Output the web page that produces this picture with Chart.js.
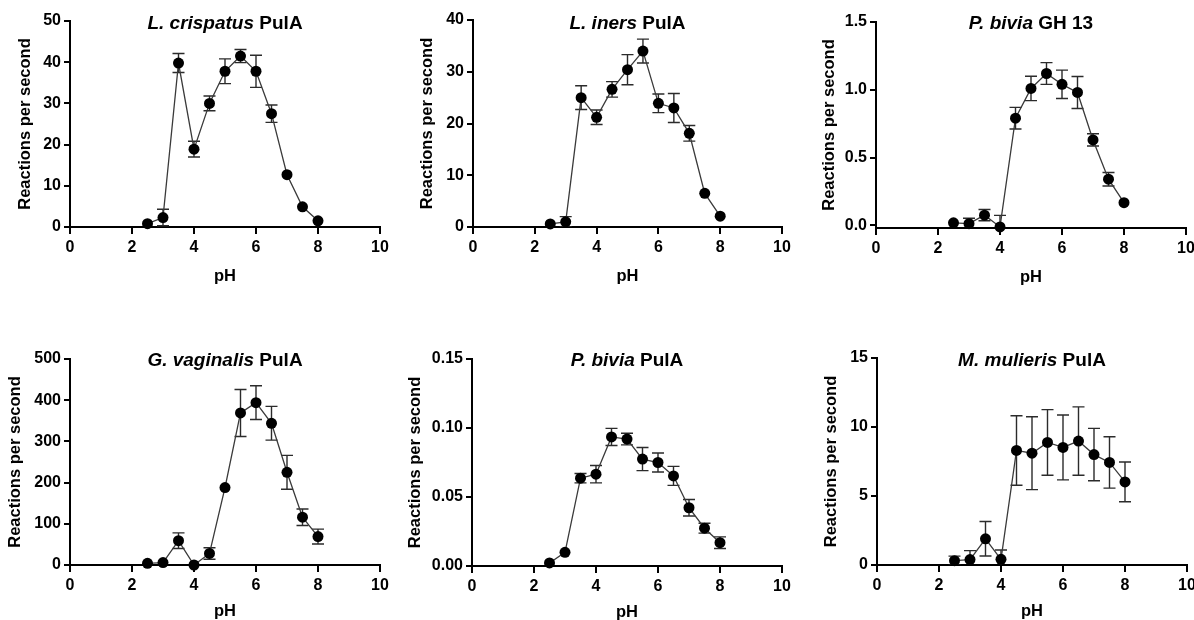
<!DOCTYPE html>
<html>
<head>
<meta charset="utf-8">
<script src="https://cdn.jsdelivr.net/npm/chart.js@4/dist/chart.umd.min.js"></script>
<style>
html, body { margin: 0; padding: 0; background: #fff; overflow: hidden; }
#wrap { position: relative; width: 1194px; height: 620px; overflow: hidden; }
#wrap canvas { position: absolute; }
</style>
</head>
<body>
<div id="wrap"></div>
<script>
const phValues = [2.5, 3, 3.5, 4, 4.5, 5, 5.5, 6, 6.5, 7, 7.5, 8];
const xTicks = [0, 2, 4, 6, 8, 10];

const titleItalic = ['L. crispatus', 'L. iners', 'P. bivia', 'G. vaginalis', 'P. bivia', 'M. mulieris'];
const titleRest = ['PulA', 'PulA', 'GH 13', 'PulA', 'PulA', 'PulA'];

const crispatusRate = [0.8, 2.3, 39.8, 18.9, 30.0, 37.8, 41.5, 37.8, 27.5, 12.7, 4.9, 1.5];
const crispatusErr = [0.2, 2.0, 2.3, 1.9, 1.8, 3.0, 1.6, 3.9, 2.1, 0.4, 0.4, 0.3];

const inersRate = [0.6, 1.0, 25.0, 21.2, 26.6, 30.4, 34.0, 23.9, 23.0, 18.1, 6.5, 2.1];
const inersErr = [0.2, 1.0, 2.3, 1.4, 1.5, 2.9, 2.3, 1.8, 2.8, 1.5, 0.3, 0.2];

const biviaGH13Rate = [0.018, 0.012, 0.075, -0.012, 0.79, 1.01, 1.12, 1.04, 0.98, 0.63, 0.34, 0.167];
const biviaGH13Err = [0.01, 0.04, 0.042, 0.085, 0.08, 0.09, 0.08, 0.105, 0.118, 0.045, 0.05, 0.01];

const vaginalisRate = [4, 6, 59, 0, 28, 188, 369, 394, 344, 225, 116, 69];
const vaginalisErr = [2, 2, 19, 3, 14, 3, 57, 41, 41, 41, 20, 18];

const biviaPulARate = [0.0022, 0.0099, 0.0636, 0.0665, 0.0935, 0.0920, 0.0775, 0.0750, 0.0653, 0.0422, 0.0274, 0.0169];
const biviaPulAErr = [0.0003, 0.0004, 0.0034, 0.0063, 0.0062, 0.0042, 0.0084, 0.0069, 0.0069, 0.0060, 0.0036, 0.0042];

const mulierisRate = [0.31, 0.39, 1.9, 0.41, 8.3, 8.1, 8.88, 8.52, 8.98, 8.0, 7.43, 6.02];
const mulierisErr = [0.33, 0.65, 1.25, 0.68, 2.52, 2.64, 2.38, 2.35, 2.48, 1.9, 1.86, 1.44];

const rates = [crispatusRate, inersRate, biviaGH13Rate, vaginalisRate, biviaPulARate, mulierisRate];
const errors = [crispatusErr, inersErr, biviaGH13Err, vaginalisErr, biviaPulAErr, mulierisErr];

const yMin = [0, 0, -0.02, 0, 0, 0];
const yMax = [50, 40, 1.5, 500, 0.15, 15];
const yStep = [10, 10, 0.5, 100, 0.05, 5];
const yDecimals = [0, 0, 1, 0, 2, 0];

// where each panel sits on the page
const panels = [
	{ left: 0,   top: 0,   width: 400, axisLeft: 70, plotRight: 380, plotTop: 21, plotBottom: 227, yTitlePad: 16, xTitlePad: 1, titleY: 29 },
	{ left: 400, top: 0,   width: 400, axisLeft: 73, plotRight: 382, plotTop: 20, plotBottom: 227, yTitlePad: 18, xTitlePad: 1, titleY: 29 },
	{ left: 794, top: 0,   width: 412, axisLeft: 82, plotRight: 392, plotTop: 22, plotBottom: 228, yTitlePad: 26, xTitlePad: 1, titleY: 29 },
	{ left: 0,   top: 320, width: 400, axisLeft: 70, plotRight: 380, plotTop: 39, plotBottom: 245, yTitlePad: 6,  xTitlePad: 4, titleY: 46 },
	{ left: 400, top: 320, width: 400, axisLeft: 72, plotRight: 382, plotTop: 39, plotBottom: 246, yTitlePad: 6,  xTitlePad: 4, titleY: 46 },
	{ left: 794, top: 320, width: 412, axisLeft: 83, plotRight: 393, plotTop: 38, plotBottom: 245, yTitlePad: 28, xTitlePad: 4, titleY: 46 },
];

const FONT = "'Liberation Sans', Arial, sans-serif";
const canvasHeight = 310;
const xAxisHeight = 60;

const errorBars = {
	id: 'errorBars',
	beforeDatasetsDraw(chart, args, opts) {
		let { ctx, chartArea, scales } = chart;
		let values = chart.data.datasets[0].data;
		ctx.save();
		ctx.beginPath();
		ctx.rect(chartArea.left, chartArea.top - 10, chartArea.width, chartArea.height + 10);
		ctx.clip();
		ctx.strokeStyle = '#2b2b2b';
		ctx.lineWidth = 1.4;
		values.forEach((pt, i) => {
			let px = scales.x.getPixelForValue(pt.x);
			let top = scales.y.getPixelForValue(pt.y + opts.errors[i]);
			let bot = scales.y.getPixelForValue(pt.y - opts.errors[i]);
			if ((bot - top) / 2 < 3) return;  // hidden behind the marker
			ctx.beginPath();
			ctx.moveTo(px, top); ctx.lineTo(px, bot);
			ctx.moveTo(px - 6, top); ctx.lineTo(px + 6, top);
			ctx.moveTo(px - 6, bot); ctx.lineTo(px + 6, bot);
			ctx.stroke();
		});
		ctx.restore();
	},
};

const panelTitle = {
	id: 'panelTitle',
	afterDraw(chart, args, opts) {
		let { ctx, chartArea } = chart;
		ctx.save();
		let italicFont = `italic bold 19px ${FONT}`;
		let plainFont = `bold 19px ${FONT}`;
		ctx.font = italicFont;
		let w1 = ctx.measureText(opts.italic + ' ').width;
		ctx.font = plainFont;
		let w2 = ctx.measureText(opts.rest).width;
		let x0 = (chartArea.left + chartArea.right) / 2 - (w1 + w2) / 2;
		ctx.fillStyle = '#000';
		ctx.textBaseline = 'alphabetic';
		ctx.textAlign = 'left';
		ctx.font = italicFont;
		ctx.fillText(opts.italic + ' ', x0, opts.y);
		ctx.font = plainFont;
		ctx.fillText(opts.rest, x0 + w1, opts.y);
		ctx.restore();
	},
};

let wrap = document.getElementById('wrap');

panels.forEach((p, k) => {
	let canvas = document.createElement('canvas');
	canvas.width = p.width;
	canvas.height = canvasHeight;
	canvas.style.left = p.left + 'px';
	canvas.style.top = p.top + 'px';
	canvas.style.width = p.width + 'px';
	canvas.style.height = canvasHeight + 'px';
	wrap.appendChild(canvas);

	let points = phValues.map((ph, i) => ({ x: ph, y: rates[k][i] }));

	new Chart(canvas.getContext('2d'), {
		type: 'line',
		data: {
			datasets: [{
				data: points,
				borderColor: '#3a3a3a',
				borderWidth: 1.3,
				pointRadius: 5.5,
				pointHoverRadius: 5.5,
				pointBackgroundColor: '#000',
				pointBorderWidth: 0,
				tension: 0,
				clip: 8,
			}],
		},
		options: {
			responsive: false,
			animation: false,
			events: [],
			layout: {
				padding: {
					left: 0,
					top: p.plotTop,
					right: p.width - p.plotRight,
					bottom: canvasHeight - xAxisHeight - p.plotBottom,
				},
			},
			plugins: {
				legend: { display: false },
				tooltip: { enabled: false },
				errorBars: { errors: errors[k] },
				panelTitle: { italic: titleItalic[k], rest: titleRest[k], y: p.titleY },
			},
			scales: {
				x: {
					type: 'linear',
					min: 0,
					max: 10,
					afterFit: s => { s.height = xAxisHeight; },
					afterBuildTicks: s => { s.ticks = xTicks.map(v => ({ value: v })); },
					grid: { display: true, drawOnChartArea: false, drawTicks: true, tickLength: 7, color: '#000', lineWidth: 2 },
					border: { display: true, color: '#000', width: 2 },
					ticks: { color: '#000', padding: 4, maxRotation: 0, font: { family: FONT, size: 16, weight: 'bold' } },
					title: { display: true, text: 'pH', color: '#000', padding: { top: 0, bottom: p.xTitlePad }, font: { family: FONT, size: 16.5, weight: 'bold' } },
				},
				y: {
					type: 'linear',
					min: yMin[k],
					max: yMax[k],
					afterFit: s => { s.width = p.axisLeft; },
					ticks: {
						stepSize: yStep[k],
						includeBounds: false,
						color: '#000',
						padding: 3,
						font: { family: FONT, size: 16, weight: 'bold' },
						callback: v => v.toFixed(yDecimals[k]),
					},
					grid: { display: true, drawOnChartArea: false, drawTicks: true, tickLength: 6, color: '#000', lineWidth: 2 },
					border: { display: true, color: '#000', width: 2 },
					title: { display: true, text: 'Reactions per second', color: '#000', padding: { top: p.yTitlePad, bottom: 0 }, font: { family: FONT, size: 16.5, weight: 'bold' } },
				},
			},
		},
		plugins: [errorBars, panelTitle],
	});
});
</script>
</body>
</html>
